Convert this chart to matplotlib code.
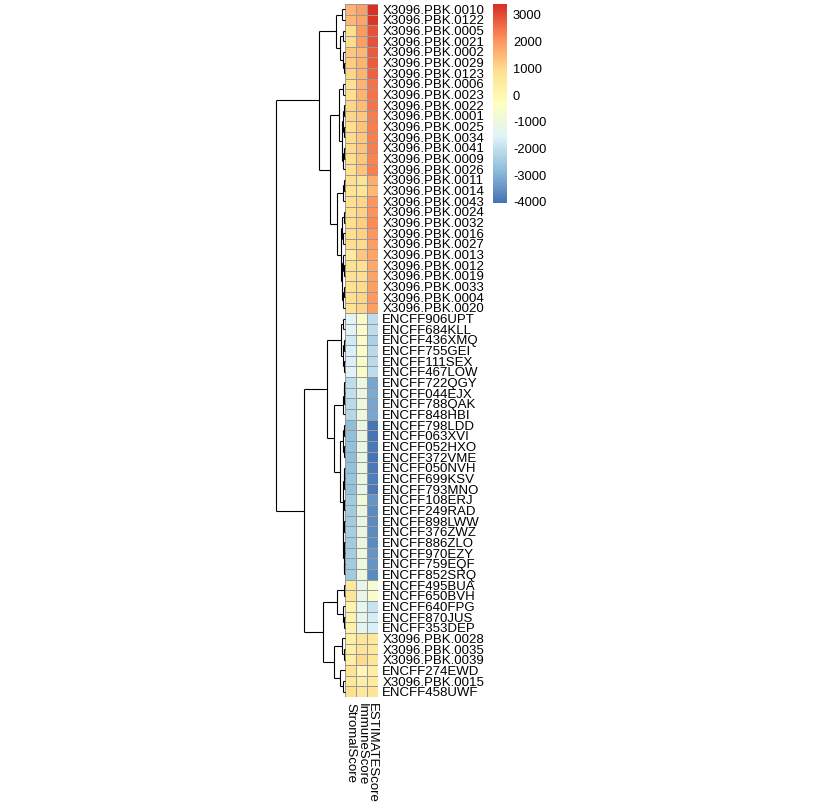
import matplotlib
matplotlib.use("Agg")
import matplotlib.pyplot as plt
import numpy as np
from matplotlib.colors import LinearSegmentedColormap, Normalize
from matplotlib.cm import ScalarMappable

plt.rcParams['font.family'] = ['Liberation Sans', 'DejaVu Sans']
plt.rcParams['axes.unicode_minus'] = False

# ---- data (rows in dendrogram order) ----
row_names = [
    "X3096.PBK.0010", "X3096.PBK.0122", "X3096.PBK.0005", "X3096.PBK.0021",
    "X3096.PBK.0002", "X3096.PBK.0029", "X3096.PBK.0123", "X3096.PBK.0006",
    "X3096.PBK.0023", "X3096.PBK.0022", "X3096.PBK.0001", "X3096.PBK.0025",
    "X3096.PBK.0034", "X3096.PBK.0041", "X3096.PBK.0009", "X3096.PBK.0026",
    "X3096.PBK.0011", "X3096.PBK.0014", "X3096.PBK.0043", "X3096.PBK.0024",
    "X3096.PBK.0032", "X3096.PBK.0016", "X3096.PBK.0027", "X3096.PBK.0013",
    "X3096.PBK.0012", "X3096.PBK.0019", "X3096.PBK.0033", "X3096.PBK.0004",
    "X3096.PBK.0020",
    "ENCFF906UPT", "ENCFF684KLL", "ENCFF436XMQ", "ENCFF755GEI", "ENCFF111SEX",
    "ENCFF467LOW", "ENCFF722QGY", "ENCFF044EJX", "ENCFF788QAK", "ENCFF848HBI",
    "ENCFF798LDD", "ENCFF063XVI", "ENCFF052HXO", "ENCFF372VME", "ENCFF050NVH",
    "ENCFF699KSV", "ENCFF793MNO", "ENCFF108ERJ", "ENCFF249RAD", "ENCFF898LWW",
    "ENCFF376ZWZ", "ENCFF886ZLO", "ENCFF970EZY", "ENCFF759EQF", "ENCFF852SRQ",
    "ENCFF495BUA", "ENCFF650BVH", "ENCFF640FPG", "ENCFF870JUS", "ENCFF353DEP",
    "X3096.PBK.0028", "X3096.PBK.0035", "X3096.PBK.0039", "ENCFF274EWD",
    "X3096.PBK.0015", "ENCFF458UWF",
]
col_names = ["StromalScore", "ImmuneScore", "ESTIMATEScore"]

stromal = [1550, 1500, 950, 1000, 1300, 1200, 1100, 850, 900, 1050, 1050, 950,
           1000, 1000, 950, 950, 850, 800, 900, 900, 950, 900, 900, 500, 850,
           850, 850, 900, 800,
           -1500, -1550, -1800, -1650, -1600, -1550, -2100, -2000, -2150, -2200,
           -2800, -2750, -2700, -2800, -2700, -2650, -2700, -2550, -2550, -2500,
           -2450, -2500, -2450, -2500, -2550,
           650, 700, 150, 200, 250, 300, 350, 300, 800, 600, 900]
immune = [1860, 1800, 1950, 1900, 1500, 1550, 1600, 1600, 1550, 1400, 1300, 1350,
          1300, 1350, 1300, 1350, 800, 700, 1100, 1150, 1200, 1150, 1000, 1300,
          900, 950, 1000, 1050, 1100,
          -550, -500, -550, -500, -550, -500, -1050, -1100, -1050, -1000,
          -1200, -1250, -1200, -1240, -1200, -1200, -1250, -900, -1100, -1150,
          -1150, -1100, -1050, -1000, -1050,
          -1250, -1200, -1350, -1300, -1300, 700, 800, 1000, 0, 300, 600]
estimate = [3410, 3300, 2900, 2900, 2800, 2750, 2700, 2450, 2450, 2450, 2350, 2300,
            2300, 2350, 2250, 2300, 1650, 1500, 2000, 2050, 2150, 2050, 1900, 1800,
            1750, 1800, 1850, 1950, 1900,
            -2050, -2050, -2350, -2150, -2150, -2050, -3150, -3100, -3200, -3200,
            -4000, -4000, -3900, -4040, -3900, -3850, -3950, -3450, -3650, -3650,
            -3600, -3600, -3500, -3500, -3600,
            -700, -600, -1900, -1700, -1650, 600, 650, 700, 400, 500, 800]

# row clustering: (left, right, merge height), leaves are row indices
A1 = ((0, 1, 2.0), ((2, 3, 1.3), (4, (5, 6, 0.6), 1.3), 4.3), 8)
A2a = ((7, 8, 1.3), (((9, 10, 0.8), (11, 12, 0.9), 1.5),
                     ((13, 14, 0.7), 15, 1.2), 2.3), 5)
A2b = (((16, 17, 0.6), 18, 1.3),
       (((19, 20, 0.8), (21, 22, 1.0), 2.0),
        ((23, (24, 25, 0.7), 1.5), ((26, 27, 0.6), 28, 1.2), 2.5), 3.3), 7)
B1a = ((29, 30, 1.0), ((31, 32, 0.8), (33, 34, 0.9), 1.6), 3.0)
B1b = ((((35, 36, 0.4), 37, 0.7), 38, 1.3),
       (((39, 40, 0.5), (41, 42, 0.6), 1.3),
        (((43, 44, 0.5), 45, 0.8),
         ((46, 47, 0.7), ((48, 49, 0.5), ((50, 51, 0.4), (52, 53, 0.5), 0.8), 1.0), 1.2),
         1.5), 4.0), 10)
B2 = (((54, 55, 0.8), (56, (57, 58, 0.4), 1.0), 7.3),
      ((59, (60, 61, 0.8), 2.3), (62, (63, 64, 1.5), 4.0), 10), 21)
row_tree = ((A1, (A2a, A2b, 14), 25), ((B1a, B1b, 17), B2, 40), 68)

# ---- colours (pheatmap default) ----
pal = ["#4575B4", "#91BFDB", "#E0F3F8", "#FFFFBF", "#FEE090", "#FC8D59", "#D73027"]
cmap = LinearSegmentedColormap.from_list("rdylbu", pal, N=100)
mat = np.column_stack([stromal, immune, estimate]).astype(float)
norm = Normalize(vmin=mat.min(), vmax=mat.max())

W, H = 827, 809
fig = plt.figure(figsize=(W / 100, H / 100), dpi=100)


def px_axes(x0, y0, x1, y1):
    return fig.add_axes([x0 / W, 1 - y1 / H, (x1 - x0) / W, (y1 - y0) / H])


n = len(row_names)

# heatmap
ax = px_axes(345, 4, 377.5, 697)
ax.pcolormesh(mat, cmap=cmap, norm=norm, edgecolors="#999999", linewidth=0.5)
ax.set_xlim(0, 3)
ax.set_ylim(n, 0)
for s in ax.spines.values():
    s.set_visible(False)
ax.yaxis.tick_right()
ax.set_yticks(np.arange(n) + 0.5)
ax.set_yticklabels(row_names, fontsize=9.5)
ax.set_xticks(np.arange(3) + 0.5)
ax.set_xticklabels(col_names, fontsize=9.5, rotation=270, ha="center", va="top")
ax.tick_params(length=0, pad=3.5)
ax.tick_params(axis="x", pad=4.3)

# dendrogram
dax = px_axes(276, 4, 344.5, 697)
dax.set_xlim(row_tree[2], 0)
dax.set_ylim(n, 0)
dax.axis("off")


def draw(node):
    if isinstance(node, int):
        return node + 0.5, 0.0
    left, right, h = node
    yl, hl = draw(left)
    yr, hr = draw(right)
    kw = dict(color="black", lw=0.8, clip_on=False, solid_capstyle="butt")
    dax.plot([h, h], [yl, yr], **kw)
    dax.plot([hl, h], [yl, yl], **kw)
    dax.plot([hr, h], [yr, yr], **kw)
    return (yl + yr) / 2, h


draw(row_tree)

# colour legend
cax = px_axes(493, 4, 507, 203)
cb = fig.colorbar(ScalarMappable(norm=norm, cmap=cmap), cax=cax,
                  ticks=[-4000, -3000, -2000, -1000, 0, 1000, 2000, 3000])
cb.outline.set_visible(False)
cax.tick_params(length=0, pad=4.3, labelsize=9.3)

fig.savefig("out.png", dpi=100)
